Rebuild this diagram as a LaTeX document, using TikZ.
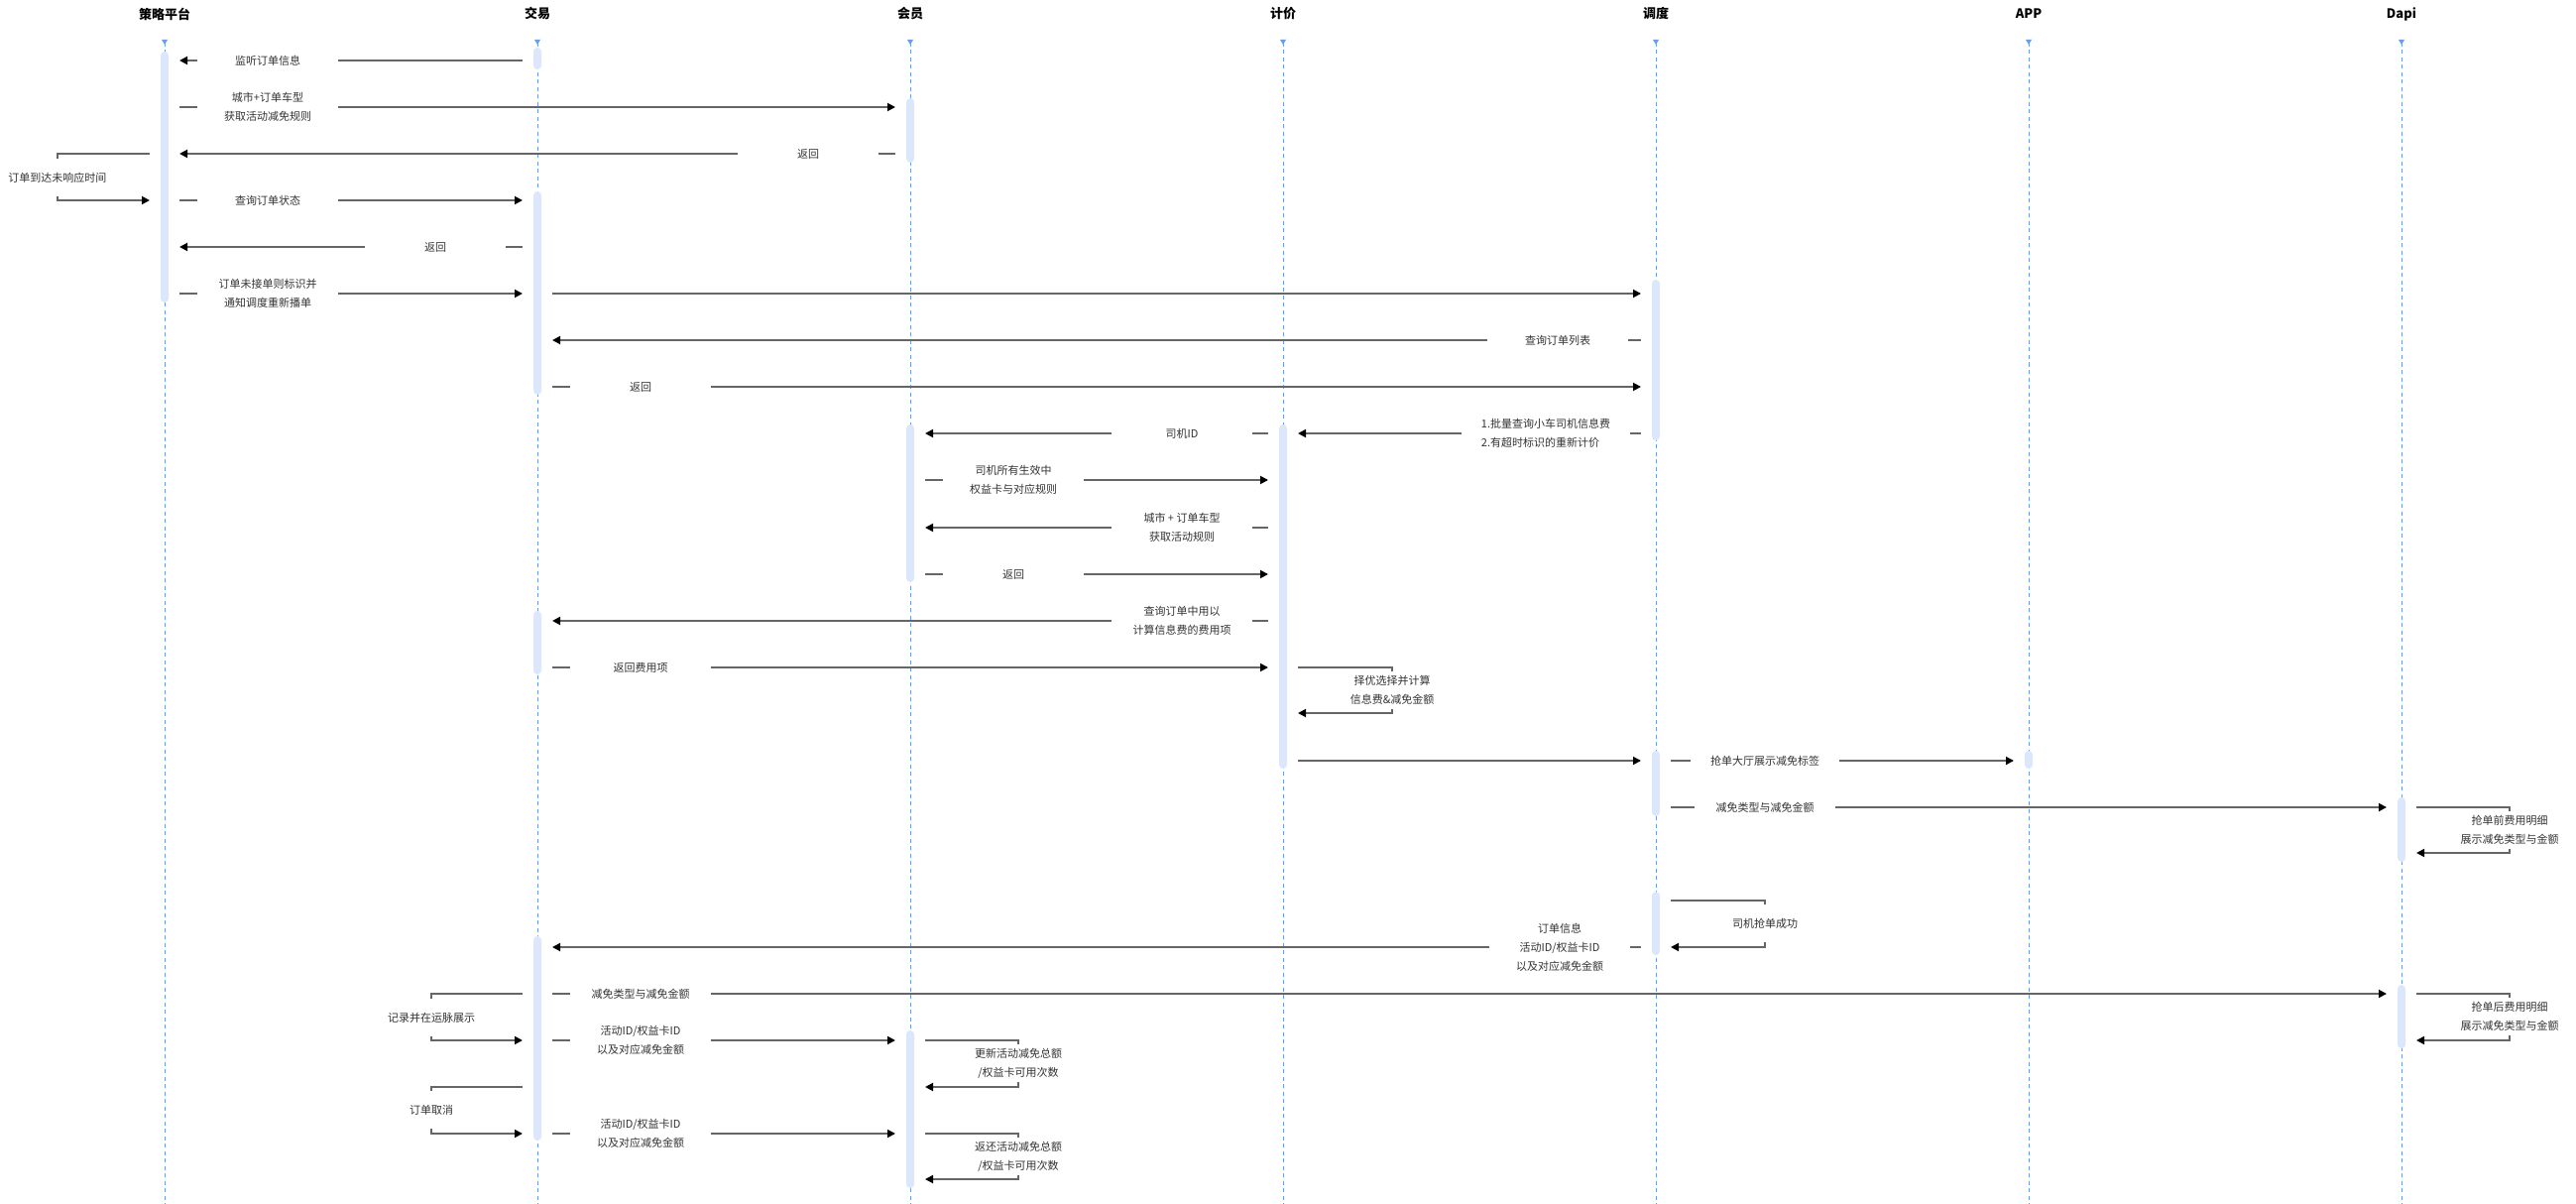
\documentclass[tikz,border=0pt]{standalone}
\usepackage{fontspec}
\setmainfont{Noto Sans CJK SC}
\usetikzlibrary{arrows.meta}
\definecolor{lifeblue}{HTML}{6C9BF7}
\definecolor{actblue}{HTML}{DDE7FB}
\definecolor{msggray}{HTML}{666666}
\definecolor{txtgray}{HTML}{333333}

\begin{document}
\begin{tikzpicture}[x=1pt, y=-1pt,
  head/.style={font=\fontsize{13}{15}\selectfont\bfseries, text=black, inner sep=0pt},
  lbl/.style={align=center, minimum width=141pt, minimum height=38pt, inner xsep=20pt, inner ysep=0pt, font=\fontsize{11}{19}\selectfont, text=txtgray},
  msg/.style={draw=msggray, line width=1.8pt},
  arr/.style={-{Triangle[length=8pt,width=8pt,color=black]}},
  life/.style={draw=lifeblue, line width=1pt, dash pattern=on 4pt off 3.5pt},
  act/.style={fill=actblue, rounded corners=4pt}
]
\useasboundingbox (0,0) rectangle (2598,1214);
\fill[white] (0,0) rectangle (2598,1214);

% Participants
\node[head] (cl) at (166,14) {策略平台};
\node[head] (jy) at (542,14) {交易};
\node[head] (hy) at (918,14) {会员};
\node[head] (jj) at (1294,14) {计价};
\node[head] (dd) at (1670,14) {调度};
\node[head] (app) at (2046,14) {APP};
\node[head] (dapi) at (2422,14) {Dapi};

% Lifelines, with left/right anchors for the messages
\foreach \n in {cl,jy,hy,jj,dd,app,dapi} {
  \draw[life] (\n |- 0,43) -- (\n |- 0,1214);
  \fill[lifeblue] ([xshift=-3pt]\n |- 0,40) -- ([xshift=3pt]\n |- 0,40) -- (\n |- 0,45) -- cycle;
  \coordinate (\n-L) at ([xshift=-15pt]\n.center);
  \coordinate (\n-R) at ([xshift=15pt]\n.center);
}

% Activation bars
\foreach \x/\ya/\yb in {166/52/305, 542/48/70, 918/99/164, 542/193/398, 1670/282/444,
    918/428/587, 1294/428/775, 542/616/680, 1670/757/823, 2046/757/775,
    2422/804/869, 1670/899/963, 542/944/1150, 2422/993/1057, 918/1039/1198}
  \fill[act] (\x-4,\ya) rectangle (\x+4,\yb);

% Order monitoring and rule lookup
\node[lbl] (m1) at (270,61) {监听订单信息};
\draw[msg] (jy-L |- m1) -- (m1.east);
\draw[msg,arr] (m1.west) -- (cl-R |- m1);

\node[lbl] (m2) at (270,108) {城市+订单车型\\获取活动减免规则};
\draw[msg] (cl-R |- m2) -- (m2.west);
\draw[msg,arr] (m2.east) -- (hy-L |- m2);

\node[lbl] (m3) at (815,155) {返回};
\draw[msg] (hy-L |- m3) -- (m3.east);
\draw[msg,arr] (m3.west) -- (cl-R |- m3);

\node[lbl] (l1) at (58,179) {订单到达未响应时间};
\draw[msg] (cl-L |- 0,155) -| (l1.north);
\draw[msg,arr] (l1.south) |- (cl-L |- 0,202);

\node[lbl] (m4) at (270,202) {查询订单状态};
\draw[msg] (cl-R |- m4) -- (m4.west);
\draw[msg,arr] (m4.east) -- (jy-L |- m4);

\node[lbl] (m5) at (439,249) {返回};
\draw[msg] (jy-L |- m5) -- (m5.east);
\draw[msg,arr] (m5.west) -- (cl-R |- m5);

\node[lbl] (m6) at (270,296) {订单未接单则标识并\\通知调度重新播单};
\draw[msg] (cl-R |- m6) -- (m6.west);
\draw[msg,arr] (m6.east) -- (jy-L |- m6);

\coordinate (m7) at (1000,296);
\draw[msg,arr] (jy-R |- m7) -- (dd-L |- m7);

% Dispatch re-pricing
\node[lbl] (m8) at (1571,343) {查询订单列表};
\draw[msg] (dd-L |- m8) -- (m8.east);
\draw[msg,arr] (m8.west) -- (jy-R |- m8);

\node[lbl] (m9) at (646,390) {返回};
\draw[msg] (jy-R |- m9) -- (m9.west);
\draw[msg,arr] (m9.east) -- (dd-L |- m9);

\node[lbl, align=left] (m10) at (1559,437) {1.批量查询小车司机信息费\\2.有超时标识的重新计价};
\draw[msg] (dd-L |- m10) -- (m10.east);
\draw[msg,arr] (m10.west) -- (jj-R |- m10);

\node[lbl] (m11) at (1192,437) {司机ID};
\draw[msg] (jj-L |- m11) -- (m11.east);
\draw[msg,arr] (m11.west) -- (hy-R |- m11);

\node[lbl] (m12) at (1022,484) {司机所有生效中\\权益卡与对应规则};
\draw[msg] (hy-R |- m12) -- (m12.west);
\draw[msg,arr] (m12.east) -- (jj-L |- m12);

\node[lbl] (m13) at (1192,532) {城市 + 订单车型\\获取活动规则};
\draw[msg] (jj-L |- m13) -- (m13.east);
\draw[msg,arr] (m13.west) -- (hy-R |- m13);

\node[lbl] (m14) at (1022,579) {返回};
\draw[msg] (hy-R |- m14) -- (m14.west);
\draw[msg,arr] (m14.east) -- (jj-L |- m14);

\node[lbl] (m15) at (1192,626) {查询订单中用以\\计算信息费的费用项};
\draw[msg] (jj-L |- m15) -- (m15.east);
\draw[msg,arr] (m15.west) -- (jy-R |- m15);

\node[lbl] (m16) at (646,673) {返回费用项};
\draw[msg] (jy-R |- m16) -- (m16.west);
\draw[msg,arr] (m16.east) -- (jj-L |- m16);

\node[lbl] (l2) at (1404,696) {择优选择并计算\\信息费\&减免金额};
\draw[msg] (jj-R |- 0,673) -| (l2.north);
\draw[msg,arr] (l2.south) |- (jj-R |- 0,719);

% Grab hall display
\coordinate (m17) at (1480,767);
\draw[msg,arr] (jj-R |- m17) -- (dd-L |- m17);

\node[lbl] (m18) at (1780,767) {抢单大厅展示减免标签};
\draw[msg] (dd-R |- m18) -- (m18.west);
\draw[msg,arr] (m18.east) -- (app-L |- m18);

\node[lbl] (m19) at (1780,814) {减免类型与减免金额};
\draw[msg] (dd-R |- m19) -- (m19.west);
\draw[msg,arr] (m19.east) -- (dapi-L |- m19);

\node[lbl] (l3) at (2531,837) {抢单前费用明细\\展示减免类型与金额};
\draw[msg] (dapi-R |- 0,814) -| (l3.north);
\draw[msg,arr] (l3.south) |- (dapi-R |- 0,860);

% Driver grabs the order
\node[lbl] (l4) at (1780,931) {司机抢单成功};
\draw[msg] (dd-R |- 0,908) -| (l4.north);
\draw[msg,arr] (l4.south) |- (dd-R |- 0,955);

\node[lbl] (m20) at (1573,955) {订单信息\\活动ID/权益卡ID\\以及对应减免金额};
\draw[msg] (dd-L |- m20) -- (m20.east);
\draw[msg,arr] (m20.west) -- (jy-R |- m20);

\node[lbl] (m21) at (646,1002) {减免类型与减免金额};
\draw[msg] (jy-R |- m21) -- (m21.west);
\draw[msg,arr] (m21.east) -- (dapi-L |- m21);

\node[lbl] (l5) at (2531,1025) {抢单后费用明细\\展示减免类型与金额};
\draw[msg] (dapi-R |- 0,1002) -| (l5.north);
\draw[msg,arr] (l5.south) |- (dapi-R |- 0,1049);

\node[lbl] (l6) at (435,1026) {记录并在运脉展示};
\draw[msg] (jy-L |- 0,1002) -| (l6.north);
\draw[msg,arr] (l6.south) |- (jy-L |- 0,1049);

\node[lbl] (m22) at (646,1049) {活动ID/权益卡ID\\以及对应减免金额};
\draw[msg] (jy-R |- m22) -- (m22.west);
\draw[msg,arr] (m22.east) -- (hy-L |- m22);

\node[lbl] (l7) at (1027,1072) {更新活动减免总额\\/权益卡可用次数};
\draw[msg] (hy-R |- 0,1049) -| (l7.north);
\draw[msg,arr] (l7.south) |- (hy-R |- 0,1096);

% Order cancelled
\node[lbl] (l8) at (435,1119) {订单取消};
\draw[msg] (jy-L |- 0,1096) -| (l8.north);
\draw[msg,arr] (l8.south) |- (jy-L |- 0,1143);

\node[lbl] (m23) at (646,1143) {活动ID/权益卡ID\\以及对应减免金额};
\draw[msg] (jy-R |- m23) -- (m23.west);
\draw[msg,arr] (m23.east) -- (hy-L |- m23);

\node[lbl] (l9) at (1027,1166) {返还活动减免总额\\/权益卡可用次数};
\draw[msg] (hy-R |- 0,1143) -| (l9.north);
\draw[msg,arr] (l9.south) |- (hy-R |- 0,1189);
\end{tikzpicture}
\end{document}
